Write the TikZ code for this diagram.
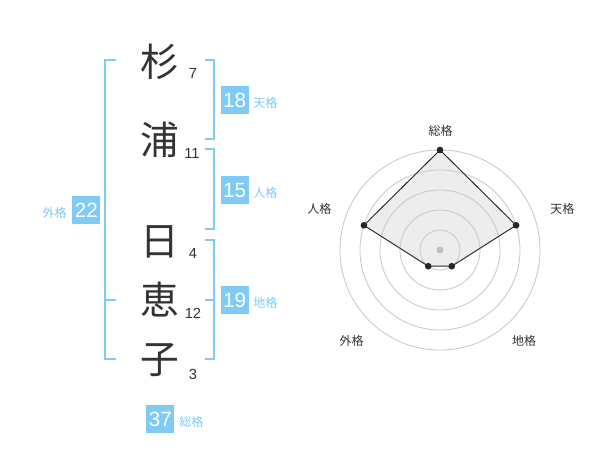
\documentclass[tikz,border=0pt]{standalone}
\usepackage{fontspec}
\setmainfont{Liberation Sans}
\newfontfamily\cjk{Noto Sans CJK JP}
\definecolor{sky}{HTML}{80CBF5}
\definecolor{ink}{HTML}{333333}
\tikzset{
  kanji/.style={font=\cjk\fontsize{29}{30}\selectfont, text=ink, inner sep=0pt},
  strokes/.style={font=\fontsize{11}{12}\selectfont, text=ink, inner sep=0pt},
  numbox/.style={fill=sky, text=white, minimum width=21pt, minimum height=21pt, inner sep=0pt, font=\fontsize{15.5}{16}\selectfont},
  kaku/.style={text=sky, font=\cjk\fontsize{9}{10}\selectfont, inner sep=0pt},
  brk/.style={draw=sky, line width=1.5pt},
  ring/.style={draw=black!22, line width=0.6pt},
  axlab/.style={text=ink, font=\cjk\fontsize{9}{10}\selectfont, inner sep=0pt},
  dot/.style={circle, fill=black!85, inner sep=0pt, minimum size=5pt},
}
\begin{document}
\begin{tikzpicture}[x=0.75pt,y=-0.75pt]
\useasboundingbox[fill=white] (0,0) rectangle (600,470);
% name characters
\node[kanji] (c1) at (160,62) {杉};
\node[kanji] (c2) at (160,140) {浦};
\node[kanji] (c3) at (160,242) {日};
\node[kanji] (c4) at (160,300) {恵};
\node[kanji] (c5) at (160,360) {子};
\node[strokes] (s1) at (193,73) {7};
\node[strokes] (s2) at (192,153.5) {11};
\node[strokes] (s3) at (193,253.5) {4};
\node[strokes] (s4) at (193,313.5) {12};
\node[strokes] (s5) at (193,374) {3};
% brackets
\coordinate (L1) at (116,60); \coordinate (L2) at (104.7,60);
\coordinate (L3) at (104.7,359.3); \coordinate (L4) at (116,359.3);
\coordinate (Lm1) at (104.7,300); \coordinate (Lm2) at (116,300);
\draw[brk] (L1) -- (L2) -- (L3) -- (L4);
\draw[brk] (Lm1) -- (Lm2);
\coordinate (T1) at (205,60); \coordinate (T2) at (214.3,60);
\coordinate (T3) at (214.3,139.3); \coordinate (T4) at (205,139.3);
\draw[brk] (T1) -- (T2) -- (T3) -- (T4);
\coordinate (J1) at (205,149.3); \coordinate (J2) at (214.3,149.3);
\coordinate (J3) at (214.3,229.3); \coordinate (J4) at (205,229.3);
\draw[brk] (J1) -- (J2) -- (J3) -- (J4);
\coordinate (C1) at (205,240); \coordinate (C2) at (214.3,240);
\coordinate (C3) at (214.3,359.3); \coordinate (C4) at (205,359.3);
\coordinate (Cm1) at (205,300); \coordinate (Cm2) at (214.3,300);
\draw[brk] (C1) -- (C2) -- (C3) -- (C4);
\draw[brk] (Cm1) -- (Cm2);
% boxes
\node[numbox] (b18) at (234.7,100.3) {18};
\node[kaku, anchor=west] (k18) at (253,103) {天格};
\node[numbox] (b15) at (234.7,190.3) {15};
\node[kaku, anchor=west] (k15) at (253,193) {人格};
\node[numbox] (b19) at (234.7,300.3) {19};
\node[kaku, anchor=west] (k19) at (253,303) {地格};
\node[numbox] (b22) at (86.3,210.3) {22};
\node[kaku, anchor=east] (k22) at (67,213) {外格};
\node[numbox] (b37) at (160.3,419.3) {37};
\node[kaku, anchor=west] (k37) at (179,422) {総格};
% radar
\coordinate (O) at (440,250);
\path (O) ++(0,-100) coordinate (pS)
      (O) ++(76.1,-24.7) coordinate (pT)
      (O) ++(11.8,16.2) coordinate (pC)
      (O) ++(-11.8,16.2) coordinate (pG)
      (O) ++(-76.1,-24.7) coordinate (pJ);
\fill[black!7] (pS) -- (pT) -- (pC) -- (pG) -- (pJ) -- cycle;
\foreach \r in {20,40,60,80,100} \draw[ring] (O) circle[radius=\r];
\fill[black!25] (O) circle[radius=3.5];
\draw[black!85, line width=0.7pt] (pS) -- (pT) -- (pC) -- (pG) -- (pJ) -- cycle;
\foreach \p in {pS,pT,pC,pG,pJ} \node[dot] at (\p) {};
\node[axlab] (aS) at (440.7,130.5) {総格};
\node[axlab] (aT) at (562.3,209) {天格};
\node[axlab] (aJ) at (319.3,209) {人格};
\node[axlab] (aG) at (351.7,341) {外格};
\node[axlab] (aC) at (524,341) {地格};
\end{tikzpicture}
\end{document}
